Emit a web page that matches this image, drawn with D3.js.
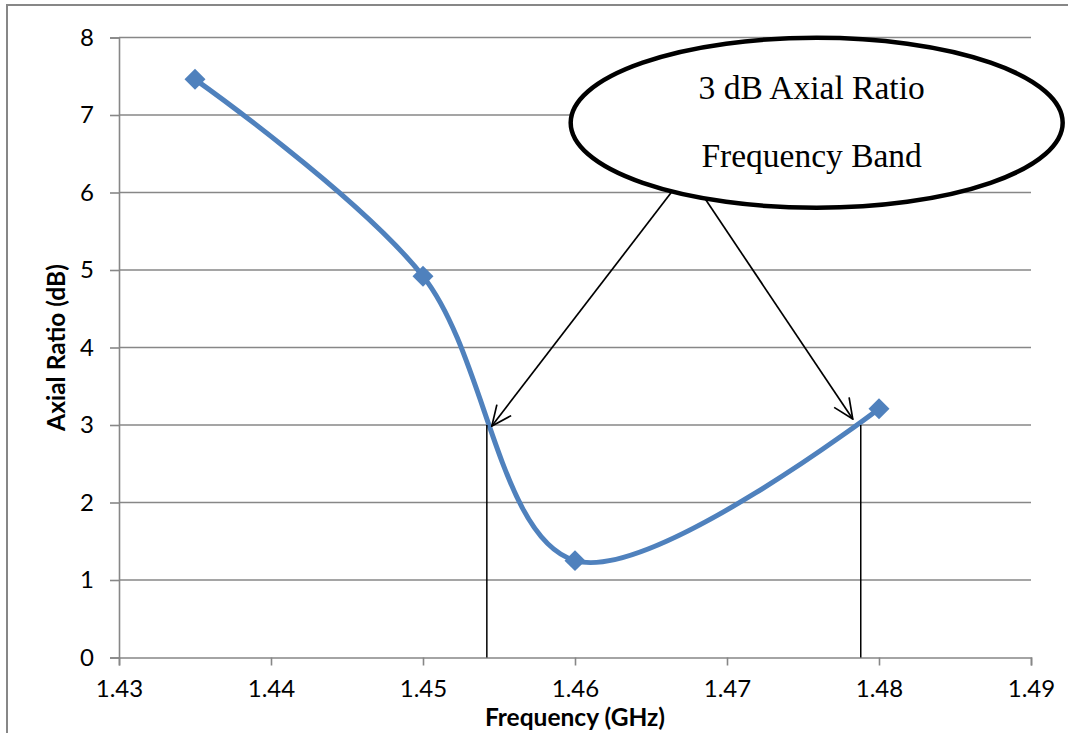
<!DOCTYPE html>
<html>
<head>
<meta charset="utf-8">
<script src="https://cdn.jsdelivr.net/npm/d3@7"></script>
<style>
  html, body { margin: 0; padding: 0; background: #fff; }
  svg { display: block; }
</style>
</head>
<body>
<svg id="chart" width="1068" height="733"></svg>
<script>
// ---- data ----
const frequency = [1.435, 1.45, 1.46, 1.48];
const axialRatio = [7.46, 4.92, 1.25, 3.21];
const xTicks = [1.43, 1.44, 1.45, 1.46, 1.47, 1.48, 1.49];
const yTicks = [0, 1, 2, 3, 4, 5, 6, 7, 8];
const bandEdges = [1.4542, 1.4788];   // 3 dB crossing frequencies
const bandLevel = 3;
const calloutLines = ["3 dB Axial Ratio", "Frequency Band"];
const xTitle = "Frequency (GHz)";
const yTitle = "Axial Ratio (dB)";

// ---- layout ----
const svg = d3.select("#chart");
const x = d3.scaleLinear().domain([1.43, 1.49]).range([119, 1031]);
const y = d3.scaleLinear().domain([0, 8]).range([657.5, 37.5]);
const gridColor = "#878787";
const blue = "#4F81BD";
const uiFont = "Lato, 'Open Sans', sans-serif";

// outer chart border
svg.append("rect").attr("x", 7).attr("y", 5).attr("width", 1080).attr("height", 760)
  .attr("fill", "none").attr("stroke", gridColor).attr("stroke-width", 2);

// horizontal gridlines
svg.append("g").selectAll("line").data(yTicks.filter(d => d > 0)).join("line")
  .attr("x1", x(1.43)).attr("x2", x(1.49))
  .attr("y1", d => y(d)).attr("y2", d => y(d))
  .attr("stroke", gridColor).attr("stroke-width", 1.6);

// y axis
const yAxis = svg.append("g").attr("transform", `translate(${x(1.43)},0)`)
  .call(d3.axisLeft(y).tickValues(yTicks).tickFormat(d3.format("d")).tickSize(9).tickPadding(16));
yAxis.select(".domain").attr("stroke", gridColor).attr("stroke-width", 1.6);
yAxis.selectAll(".tick line").attr("stroke", gridColor).attr("stroke-width", 1.6);
yAxis.selectAll(".tick text").attr("font-family", uiFont).attr("font-size", 24).attr("fill", "#000");

// x axis
const xAxis = svg.append("g").attr("transform", `translate(0,${y(0)})`)
  .call(d3.axisBottom(x).tickValues(xTicks).tickFormat(d3.format(".2f")).tickSize(8).tickPadding(14));
xAxis.select(".domain").attr("stroke", gridColor).attr("stroke-width", 1.6);
xAxis.selectAll(".tick line").attr("stroke", gridColor).attr("stroke-width", 1.6);
xAxis.selectAll(".tick text").attr("font-family", uiFont).attr("font-size", 24).attr("fill", "#000");

// axis titles
svg.append("text").attr("x", (x(1.43) + x(1.49)) / 2).attr("y", 726)
  .attr("text-anchor", "middle").attr("font-family", uiFont).attr("font-weight", "bold")
  .attr("font-size", 24.5).text(xTitle);
svg.append("text")
  .attr("transform", `translate(65,${(y(0) + y(8)) / 2}) rotate(-90)`)
  .attr("text-anchor", "middle").attr("font-family", uiFont).attr("font-weight", "bold")
  .attr("font-size", 24.5).text(yTitle);

// data series (smoothed line)
const pts = frequency.map((f, i) => [f, axialRatio[i]]);
const line = d3.line().x(d => x(d[0])).y(d => y(d[1])).curve(d3.curveCatmullRom.alpha(0));
svg.append("path").datum(pts).attr("d", line)
  .attr("fill", "none").attr("stroke", blue).attr("stroke-width", 5)
  .attr("stroke-linejoin", "round").attr("stroke-linecap", "round");
svg.append("g").selectAll("path").data(pts).join("path")
  .attr("d", d3.symbol(d3.symbolDiamond2, 280))
  .attr("transform", d => `translate(${x(d[0])},${y(d[1])})`)
  .attr("fill", blue);

// band edge vertical lines
svg.append("g").selectAll("line").data(bandEdges).join("line")
  .attr("x1", d => x(d)).attr("x2", d => x(d))
  .attr("y1", y(bandLevel)).attr("y2", y(0))
  .attr("stroke", "#000").attr("stroke-width", 1.5);

// callout arrows
const defs = svg.append("defs");
defs.append("marker").attr("id", "arrow").attr("viewBox", "0 0 22 22")
  .attr("refX", 21).attr("refY", 11).attr("markerWidth", 22).attr("markerHeight", 22)
  .attr("markerUnits", "userSpaceOnUse").attr("orient", "auto")
  .append("path").attr("d", "M1,2 L21,11 L1,20").attr("fill", "none")
  .attr("stroke", "#000").attr("stroke-width", 1.7);

const calloutX = 1.4757, calloutY = 6.9;
const cx = x(calloutX), cy = y(calloutY);
const rx = 246, ry = 85;
const startPts = [[x(1.4670), y(6.17)], [x(1.4677), y(6.17)]];
const tipPts = [[x(bandEdges[0]) + 5, y(bandLevel) + 1], [x(bandEdges[1]) - 8, y(bandLevel) - 6]];
svg.append("g").selectAll("line").data([0, 1]).join("line")
  .attr("x1", i => startPts[i][0]).attr("y1", i => startPts[i][1])
  .attr("x2", i => tipPts[i][0]).attr("y2", i => tipPts[i][1])
  .attr("stroke", "#000").attr("stroke-width", 1.7).attr("marker-end", "url(#arrow)");

// callout ellipse
svg.append("ellipse").attr("cx", x(1.4759)).attr("cy", cy).attr("rx", rx).attr("ry", ry)
  .attr("fill", "#fff").attr("stroke", "#000").attr("stroke-width", 4.5);
svg.append("g").selectAll("text").data(calloutLines).join("text")
  .attr("x", cx - 2).attr("y", (d, i) => cy - 24 + i * 68)
  .attr("text-anchor", "middle").attr("font-family", "'Liberation Serif', 'Times New Roman', serif")
  .attr("font-size", 33.5).attr("fill", "#000").text(d => d);
</script>
</body>
</html>
